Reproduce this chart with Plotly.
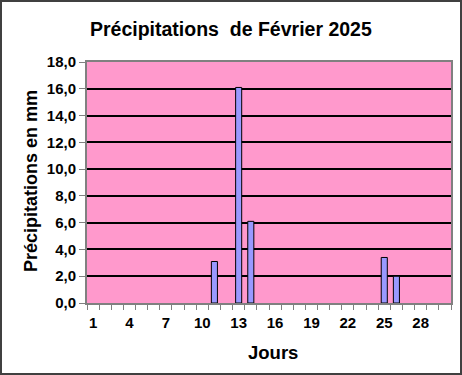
import plotly.graph_objects as go

days = [11, 13, 14, 25, 26]
precip = [3.1, 16.1, 6.1, 3.4, 2.0]
x_tick_vals = [1, 4, 7, 10, 13, 16, 19, 22, 25, 28]
y_tick_vals = [0, 2, 4, 6, 8, 10, 12, 14, 16, 18]

W, H = 462, 375
L, R, T, B = 87, 451, 62, 303

fig = go.Figure()
fig.add_trace(go.Bar(
    x=days, y=precip, width=0.5,
    marker=dict(color="#9999FF", line=dict(color="black", width=1)),
))

font_family = "Liberation Sans, Arial, sans-serif"
fig.update_layout(
    width=W, height=H,
    margin=dict(l=0, r=0, t=0, b=0, pad=0),
    paper_bgcolor="white",
    plot_bgcolor="#FF99CC",
    separators=", ",
    showlegend=False,
    font=dict(family=font_family, color="black"),
    xaxis=dict(
        domain=[L / W, R / W],
        range=[0.5, 30.5],
        tickvals=x_tick_vals,
        ticks="",
        ticklabelstandoff=5,
        showgrid=False,
        showline=True, linecolor="#808080", linewidth=2, mirror=True,
        tickfont=dict(size=15, weight="bold"),
        minor=dict(ticks="outside", tick0=0.5, dtick=1, ticklen=5, tickcolor="#808080", tickwidth=1, showgrid=False),
        zeroline=False,
        automargin=False,
    ),
    yaxis=dict(
        domain=[1 - B / H, 1 - T / H],
        range=[0, 18],
        tickvals=y_tick_vals,
        tickformat=".1f",
        ticks="outside", ticklen=6, tickcolor="#808080",
        showgrid=True, gridcolor="black", gridwidth=2,
        showline=True, linecolor="#808080", linewidth=2, mirror=True,
        tickfont=dict(size=15, weight="bold"),
        zeroline=False,
        automargin=False,
    ),
    shapes=[dict(type="rect", xref="paper", yref="paper",
                 x0=1 / W, x1=1 - 1 / W, y0=1 / H, y1=1 - 1 / H,
                 line=dict(color="#404040", width=2), layer="above")],
    annotations=[
        dict(text="Précipitations  de Février 2025", xref="paper", yref="paper",
             x=231 / W, y=1 - 29 / H, xanchor="center", yanchor="middle",
             showarrow=False, font=dict(size=19.5, weight="bold")),
        dict(text="Jours", xref="paper", yref="paper",
             x=273 / W, y=1 - 352 / H, xanchor="center", yanchor="middle",
             showarrow=False, font=dict(size=18.5, weight="bold")),
        dict(text="Précipitations en mm", xref="paper", yref="paper",
             x=31 / W, y=1 - 181 / H, xanchor="center", yanchor="middle",
             textangle=-90, showarrow=False, font=dict(size=18, weight="bold")),
    ],
)

fig.write_html("out.html")
